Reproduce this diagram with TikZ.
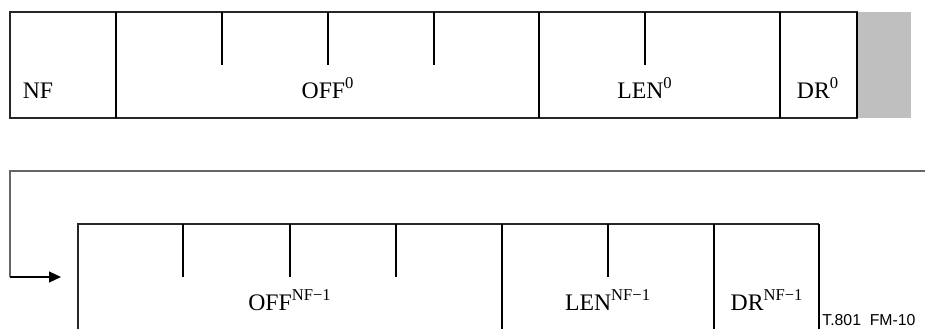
\documentclass[tikz,border=0pt]{standalone}
\usepackage{fontspec}
\setmainfont{Liberation Serif}
\newfontfamily\labelfont{Liberation Sans}
\usetikzlibrary{arrows.meta}
\newcommand{\up}[1]{\textsuperscript{#1}}

\begin{document}
\begin{tikzpicture}[
  x=0.02cm, y=-0.02cm,
  frame/.style={draw=black!85,line width=0.6pt},  divider/.style={black,line width=1.1pt},  field/.style={anchor=base,inner sep=0pt,font=\fontsize{13.5}{15}\selectfont},  loop/.style={draw=black!60,line width=0.7pt}
]
  \useasboundingbox (0,0) rectangle (925,329);
  % first entry
  \fill[black!25] (857,12) rectangle (911,118);
  \draw[frame] (10,12) rectangle (857,118);
  \draw[divider] (116,12) -- (116,118);
  \draw[divider] (539,12) -- (539,118);
  \draw[divider] (780,12) -- (780,118);
  \draw[divider] (857,12) -- (857,118);
  \foreach \x in {222,328,434,645}
    \draw[divider] (\x,12) -- (\x,65);
  \node[field] (nf) at (38,98) {NF};
  \node[field] (off0) at (328,98) {OFF\up{0}};
  \node[field] (len0) at (645,98) {LEN\up{0}};
  \node[field] (dr0) at (818,98) {DR\up{0}};
  % last entry
  \draw[frame] (78,329) -- (78,224) -- (819,224);
  \draw[divider] (502,224) -- (502,329);
  \draw[divider] (714,224) -- (714,329);
  \draw[divider] (819,224) -- (819,329);
  \foreach \x in {183,290,396,608}
    \draw[divider] (\x,224) -- (\x,277);
  \node[field] (offn) at (290,310) {OFF\up{NF−1}};
  \node[field] (lenn) at (608,310) {LEN\up{NF−1}};
  \node[field] (drn) at (767,310) {DR\up{NF−1}};
  \node[anchor=base west,inner sep=0pt,font=\labelfont\fontsize{9}{10}\selectfont] (tag) at (822,325) {T.801\ \ FM-10};
  % wrap-around connector
  \coordinate (wrapin) at (925,171);
  \coordinate (wrapcorner) at (10,171);
  \coordinate (wrapdown) at (10,277);
  \coordinate (wrapend) at (61,277);
  \draw[loop] (wrapin) -- (wrapcorner) -- (wrapdown);
  \draw[black,line width=0.7pt,-{Triangle[length=0.24cm,width=0.22cm]}] (wrapdown) -- (wrapend);
\end{tikzpicture}
\end{document}
